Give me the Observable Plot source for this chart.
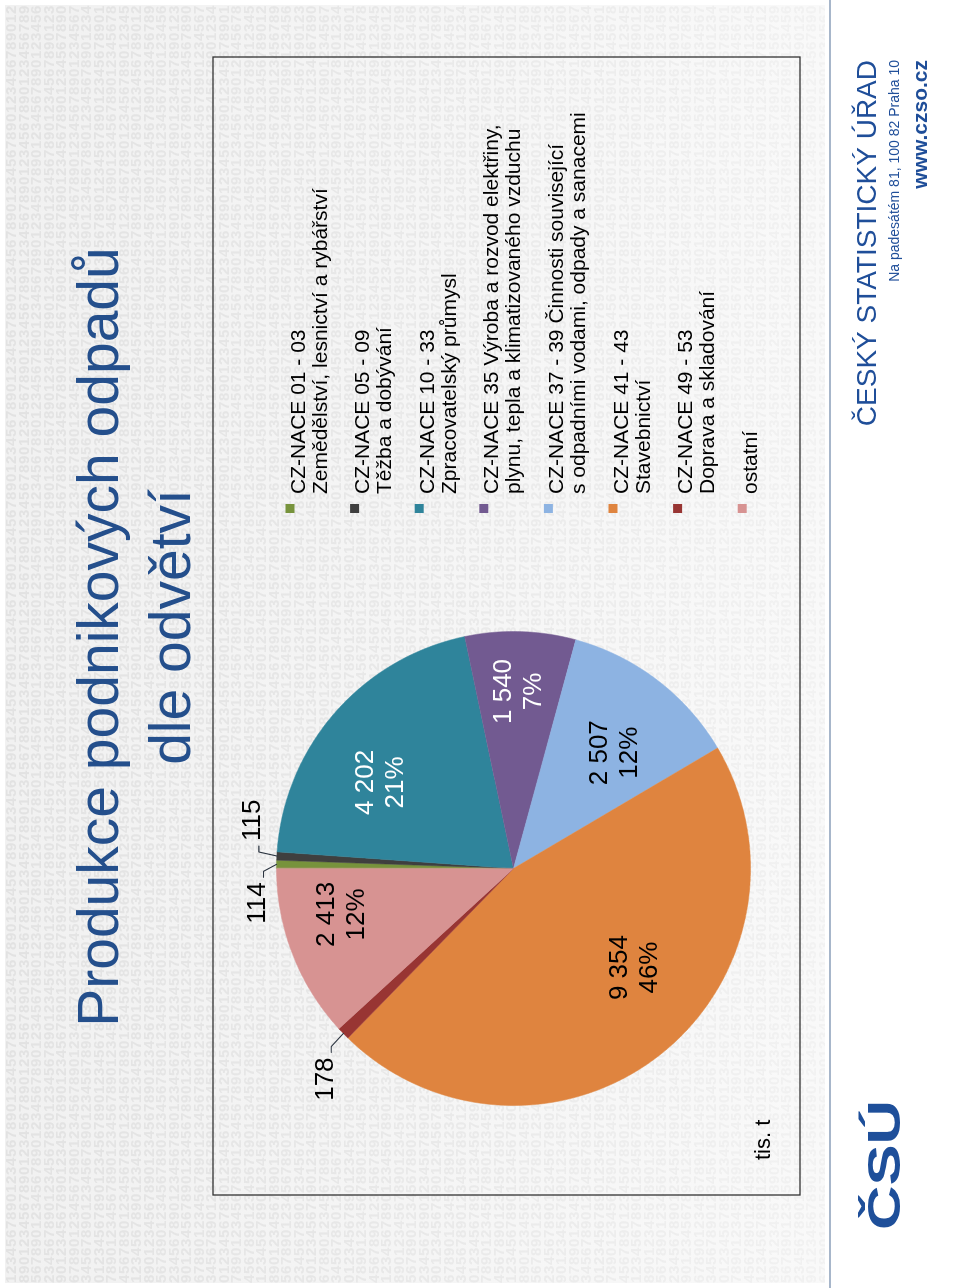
<!DOCTYPE html>
<html lang="cs">
<head>
<meta charset="utf-8">
<script src="https://cdn.jsdelivr.net/npm/d3@7"></script>
<script src="https://cdn.jsdelivr.net/npm/@observablehq/plot@0.6"></script>
<style>
html, body { margin:0; padding:0; background:#fff; }
body { width:960px; height:1288px; overflow:hidden; position:relative; font-family:"Liberation Sans", Arial, sans-serif; }
#slide { position:absolute; left:0; top:0; width:1288px; height:960px; transform-origin:0 0; transform:translate(0px,1288px) rotate(-90deg); background:#fff; overflow:hidden; }
#pattern { position:absolute; left:5px; top:5px; width:1278px; height:820px; }
#rule { position:absolute; left:0; top:829px; width:1288px; height:2px; background:#A7B6CA; }
#pie { position:absolute; left:119px; top:213px; width:600px; height:600px; }
#overlay { position:absolute; left:0; top:0; }
</style>
</head>
<body>
<div id="slide">
  <canvas id="pattern" width="1278" height="820"></canvas>
  <div id="rule"></div>
  <div id="pie"></div>
  <svg id="overlay" width="1288" height="960"></svg>
</div>
<script>
// ---------------- data ----------------
const titleLines = ["Produkce podnikových odpadů", "dle odvětví"];
const codes = ["CZ-NACE 01 - 03","CZ-NACE 05 - 09","CZ-NACE 10 - 33","CZ-NACE 35","CZ-NACE 37 - 39","CZ-NACE 41 - 43","CZ-NACE 49 - 53","ostatní"];
const legendFirst = ["CZ-NACE 01 - 03","CZ-NACE 05 - 09","CZ-NACE 10 - 33","CZ-NACE 35 Výroba a rozvod elektřiny,","CZ-NACE 37 - 39 Činnosti související","CZ-NACE 41 - 43","CZ-NACE 49 - 53","ostatní"];
const legendSecond = ["Zemědělství, lesnictví a rybářství","Těžba a dobývání","Zpracovatelský průmysl","plynu, tepla a klimatizovaného vzduchu","s odpadními vodami, odpady a sanacemi","Stavebnictví","Doprava a skladování",""];
const values = [114, 115, 4202, 1540, 2507, 9354, 178, 2413];
const percentShown = [null, null, 21, 7, 12, 46, null, 12];
const colors = ["#77933C","#3F3F3F","#2F849B","#725A91","#8DB3E2","#DF843F","#983533","#D79392"];
const unitLabel = "tis. t";
const footerLines = ["ČESKÝ STATISTICKÝ ÚŘAD", "Na padesátém 81, 100 82  Praha 10", "www.czso.cz"];
const logoText = "ČSÚ";

// ---------------- background texture (decorative digits) ----------------
(function(){
  const cv = document.getElementById("pattern");
  const ctx = cv.getContext("2d");
  const g = ctx.createLinearGradient(0, 0, 0, cv.height);
  g.addColorStop(0, "#F1F1F1"); g.addColorStop(1, "#F9F9F9");
  ctx.fillStyle = g; ctx.fillRect(0, 0, cv.width, cv.height);
  ctx.font = 'bold 15px "Liberation Sans", Arial, sans-serif';
  ctx.textBaseline = "alphabetic";
  const base = "1234567890";
  const nRows = 66;
  for (let r = 0; r < nRows; r++) {
    const off = (r * 7) % 10;
    let s = "";
    for (let k = 0; k < 150; k++) s += base[(k + off) % 10];
    ctx.globalAlpha = 1 - 0.7 * r / nRows;
    ctx.fillStyle = "#E2E2E2";
    let x = 0;
    for (const ch of s) { ctx.fillText(ch, x, 11 + r * 12.5); x += 9; }
  }
  ctx.globalAlpha = 1;
})();

// ---------------- pie geometry (from values) ----------------
const R = 237, W = 600, D = W / 2 / R;
const total = d3.sum(values);
let cum = 0;
const slices = values.map((v, i) => {
  const a0 = cum / total * 2 * Math.PI; cum += v;
  const a1 = cum / total * 2 * Math.PI;
  return {i, code: codes[i], v, a0, a1, mid: (a0 + a1) / 2};
});
const slicePts = [];
for (const s of slices) {
  slicePts.push({code: s.code, x: 0, y: 0});
  const n = Math.max(2, Math.ceil((s.a1 - s.a0) * 180 / Math.PI * 2));
  for (let k = 0; k <= n; k++) {
    const a = s.a0 + (s.a1 - s.a0) * k / n;
    slicePts.push({code: s.code, x: Math.sin(a), y: Math.cos(a)});
  }
}
const fmt = d3.formatLocale({decimal: ",", thousands: "\u00a0", grouping: [3], currency: ["", ""]}).format(",d");
const deg = Math.PI / 180;

// label placement tweaks (Excel best-fit style)
const innerTweak = {2: {da: -8.5, r: 0.675}, 3: {da: -0.7, r: 0.747}, 4: {da: 3.2, r: 0.643}, 5: {da: -12.1, r: 0.653}, 7: {da: 6.5, r: 0.76}};
const outerTweak = {0: {bx: -7, by: -13, side: -1}, 1: {bx: 4, by: -18, side: 1}, 6: {bx: -13, by: -12, side: -1}};

const innerLabels = [], outerLabels = [], leaderPts = [];
for (const s of slices) {
  if (innerTweak[s.i]) {
    const t = innerTweak[s.i];
    const a = s.mid + t.da * deg;
    innerLabels.push({x: t.r * Math.sin(a), y: t.r * Math.cos(a), text: fmt(s.v) + "\n" + percentShown[s.i] + "%", white: s.i === 2 || s.i === 3});
  } else if (outerTweak[s.i]) {
    const t = outerTweak[s.i];
    const E = {x: Math.sin(s.mid), y: Math.cos(s.mid)};
    const B = {x: E.x + t.bx / R, y: E.y - t.by / R};
    const A = {x: B.x + t.side * 6 / R, y: B.y};
    leaderPts.push({code: s.code, ...E}, {code: s.code, ...B}, {code: s.code, ...A});
    outerLabels.push({x: A.x + t.side * 5 / R, y: A.y + 7 / R, text: fmt(s.v), side: t.side});
  }
}

const font = '"Liberation Sans", Arial, sans-serif';
const chart = Plot.plot({
  width: W, height: W, margin: 0,
  x: {domain: [-D, D], axis: null},
  y: {domain: [-D, D], axis: null},
  color: {domain: codes, range: colors},
  style: {background: "transparent", fontFamily: font, overflow: "visible"},
  marks: [
    Plot.line(slicePts, {x: "x", y: "y", z: "code", fill: "code", stroke: "code", strokeWidth: 0.5, curve: "linear-closed"}),
    Plot.line(leaderPts, {x: "x", y: "y", z: "code", stroke: "#2b3440", strokeWidth: 1.1}),
    Plot.text(innerLabels.filter(d => !d.white), {x: "x", y: "y", text: "text", fill: "#000", fontSize: 26, lineAnchor: "middle", lineHeight: 1.15}),
    Plot.text(innerLabels.filter(d => d.white), {x: "x", y: "y", text: "text", fill: "#fff", fontSize: 26, lineAnchor: "middle", lineHeight: 1.15}),
    Plot.text(outerLabels.filter(d => d.side < 0), {x: "x", y: "y", text: "text", fill: "#000", fontSize: 26, textAnchor: "end", lineAnchor: "middle"}),
    Plot.text(outerLabels.filter(d => d.side > 0), {x: "x", y: "y", text: "text", fill: "#000", fontSize: 26, textAnchor: "start", lineAnchor: "middle"})
  ]
});
document.getElementById("pie").appendChild(chart);

// ---------------- slide furniture ----------------
const ov = d3.select("#overlay").style("font-family", font);
ov.append("rect").attr("x", 93).attr("y", 213).attr("width", 1138).attr("height", 587)
  .attr("fill", "none").attr("stroke", "#333").attr("stroke-width", 1.3);

ov.append("text").attr("x", 651).attr("y", 118).attr("text-anchor", "middle")
  .attr("font-size", 57).attr("fill", "#244F8C").text(titleLines[0]);
ov.append("text").attr("x", 661).attr("y", 190).attr("text-anchor", "middle")
  .attr("font-size", 57).attr("fill", "#244F8C").text(titleLines[1]);

codes.forEach((c, i) => {
  const y0 = 297 + 64.6 * i;
  ov.append("rect").attr("x", 775).attr("y", y0 - 7 - 4.5).attr("width", 9).attr("height", 9).attr("fill", colors[i]);
  ov.append("text").attr("x", 794).attr("y", y0 + 7.5).attr("font-size", 21).attr("fill", "#000").text(legendFirst[i]);
  if (legendSecond[i]) ov.append("text").attr("x", 794).attr("y", y0 + 29.5).attr("font-size", 21).attr("fill", "#000").text(legendSecond[i]);
});

ov.append("text").attr("x", 128).attr("y", 770).attr("font-size", 22).attr("fill", "#000").text(unitLabel);

ov.append("text").attr("x", 1228).attr("y", 876).attr("text-anchor", "end").attr("font-size", 28).attr("fill", "#1F4E99").text(footerLines[0]);
ov.append("text").attr("x", 1228).attr("y", 899).attr("text-anchor", "end").attr("font-size", 14).attr("fill", "#1F4E99").text(footerLines[1]);
ov.append("text").attr("x", 1228).attr("y", 927).attr("text-anchor", "end").attr("font-size", 21).attr("font-weight", "bold").attr("fill", "#1F4E99").text(footerLines[2]);

ov.append("text").attr("x", 58).attr("y", 900).attr("font-size", 46).attr("font-weight", "bold")
  .attr("textLength", 130).attr("lengthAdjust", "spacingAndGlyphs").attr("fill", "#1E4F9A").text(logoText);
</script>
</body>
</html>
